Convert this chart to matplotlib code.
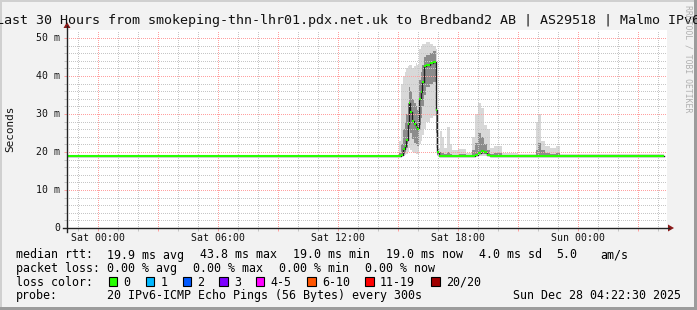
import numpy as np
import matplotlib
matplotlib.use('Agg')
import matplotlib.pyplot as plt
from matplotlib.patches import Rectangle, Polygon
from matplotlib.lines import Line2D
from matplotlib.transforms import blended_transform_factory

W, H = 697, 310
MONO = 'DejaVu Sans Mono'

# time in hours relative to Sat 00:00, each value holds until the next time
hours = [-1.6, 15.05, 15.15, 15.25, 15.35, 15.42, 15.50, 15.55, 15.62, 15.70,
         15.78, 15.88, 15.97, 16.03, 16.13, 16.22, 16.30, 16.42, 16.58, 16.75,
         16.90, 16.97, 17.03, 17.10, 17.20, 17.30, 17.45, 17.58, 17.70, 18.00,
         18.40, 18.70, 18.85, 19.00, 19.15, 19.30, 19.45, 19.60, 19.80, 20.20,
         21.00, 21.90, 22.00, 22.15, 22.35, 22.60, 22.90, 23.10]
t_end = 28.3

median = [19.0, 19.0, 19.3, 20.9, 21.5, 23.2, 27.4, 33.0, 30.6, 28.1,
          27.4, 26.7, 26.0, 33.9, 35.9, 38.5, 42.6, 43.0, 43.5, 43.8,
          31.0, 20.0, 19.0, 19.0, 19.0, 19.0, 19.0, 19.0, 19.0, 19.0,
          19.0, 19.0, 19.2, 19.8, 20.2, 20.0, 19.2, 19.0, 19.0, 19.0,
          19.0, 19.0, 19.0, 19.0, 19.0, 19.0, 19.0, 19.0]
smoke_lo = [19.0, 19.0, 19.0, 19.0, 19.2, 19.5, 20.0, 21.0, 20.5, 20.0,
            19.8, 19.5, 19.5, 22.0, 23.0, 24.5, 26.0, 28.0, 29.0, 29.5,
            21.0, 19.0, 19.0, 19.0, 19.0, 19.0, 19.0, 19.0, 19.0, 19.0,
            19.0, 19.0, 19.0, 19.0, 19.0, 19.0, 19.0, 19.0, 19.0, 19.0,
            19.0, 19.0, 19.0, 19.0, 19.0, 19.0, 19.0, 19.0]
smoke_q1 = [19.0, 19.0, 19.2, 19.6, 20.0, 21.0, 23.0, 26.0, 25.0, 23.5,
            22.5, 22.0, 21.5, 27.0, 29.0, 32.0, 35.0, 37.0, 38.0, 38.5,
            25.0, 19.3, 19.0, 19.0, 19.0, 19.0, 19.0, 19.0, 19.0, 19.0,
            19.0, 19.0, 19.2, 19.4, 19.6, 19.5, 19.1, 19.0, 19.0, 19.0,
            19.0, 19.0, 19.2, 19.0, 19.0, 19.0, 19.0, 19.0]
smoke_q3 = [19.1, 19.8, 22.0, 26.0, 28.0, 30.0, 33.0, 37.0, 36.0, 34.0,
            33.0, 32.0, 31.0, 39.0, 41.0, 43.0, 45.0, 45.5, 46.0, 46.5,
            40.0, 21.0, 19.6, 20.0, 19.8, 19.5, 20.0, 19.5, 19.3, 19.5,
            19.2, 20.5, 22.5, 25.0, 24.0, 22.0, 20.5, 19.5, 19.8, 19.2,
            19.1, 20.5, 22.5, 20.5, 19.8, 19.5, 19.8, 19.1]
smoke_hi = [19.3, 23.0, 38.0, 40.0, 41.0, 42.0, 42.5, 43.0, 43.0, 42.0,
            42.5, 43.5, 43.0, 47.0, 48.0, 48.5, 48.5, 49.0, 48.5, 48.0,
            47.0, 25.0, 21.0, 25.5, 24.0, 21.0, 26.7, 22.0, 20.5, 20.8,
            19.8, 24.0, 30.0, 33.0, 31.5, 27.0, 26.0, 21.0, 21.5, 19.8,
            19.5, 28.0, 30.0, 23.0, 21.5, 21.0, 21.5, 19.5]

y_ticks = [0, 10, 20, 30, 40, 50]
y_tick_labels = ['0', '10 m', '20 m', '30 m', '40 m', '50 m']
x_label_hours = [0, 6, 12, 18, 24]
x_labels = ['Sat 00:00', 'Sat 06:00', 'Sat 12:00', 'Sat 18:00', 'Sun 00:00']

title = 'Last 30 Hours from smokeping-thn-lhr01.pdx.net.uk to Bredband2 AB | AS29518 | Malmo IPv6'

rtt_row = [(16, 'median rtt:'), (107, '19.9 ms avg'), (200, '43.8 ms max'),
           (293, '19.0 ms min'), (386, '19.0 ms now'), (479, '4.0 ms sd'),
           (556, '5.0'), (600, 'am/s')]
loss_row = [(16, 'packet loss:'), (107, '0.00 % avg'), (193, '0.00 % max'),
            (279, '0.00 % min'), (365, '0.00 % now')]
loss_names = ['0', '1', '2', '3', '4-5', '6-10', '11-19', '20/20']
loss_colors = ['#26ff00', '#00b8ff', '#0059ff', '#7e00ff', '#ff00ff',
               '#ff5500', '#ff0000', '#a00000']
loss_box_x = [108.5, 145.5, 182.5, 219, 255.5, 307, 365, 431]
probe_text = '20 IPv6-ICMP Echo Pings (56 Bytes) every 300s'
date_text = 'Sun Dec 28 04:22:30 2025'


def fx(x):
    return x / W


def fy(y):
    return 1 - y / H


fig = plt.figure(figsize=(W / 100, H / 100), dpi=100, facecolor='#f2f2f2')

# frame shading
fig.add_artist(Rectangle((0, fy(2)), 1, 2 / H, transform=fig.transFigure, color='#d0d0d0', lw=0))
fig.add_artist(Rectangle((0, 0), 2 / W, 1, transform=fig.transFigure, color='#d0d0d0', lw=0))
fig.add_artist(Rectangle((0, 0), 1, 3 / H, transform=fig.transFigure, color='#9c9c9c', lw=0))
fig.add_artist(Rectangle((fx(694), 0), 3 / W, 1, transform=fig.transFigure, color='#9c9c9c', lw=0))

ax = fig.add_axes([fx(67), fy(228), 600 / W, (228 - 30.4) / H])
ax.set_facecolor('white')
ax.set_xlim(-1.55, 28.45)
ax.set_ylim(0, 52)
for s in ax.spines.values():
    s.set_visible(False)

xs = np.array(hours + [t_end])
def ext(v):
    return np.array(v + [v[-1]])

ax.fill_between(xs, ext(smoke_lo), ext(smoke_hi), step='post', color='#d8d8d8', lw=0, zorder=1)
ax.fill_between(xs, ext(smoke_q1), ext(smoke_q3), step='post', color='#8c8c8c', lw=0, zorder=1.2)
ax.step(xs, ext(median), where='post', color='#202020', lw=1.0, zorder=1.5)

# grid
red = '#ffa0a0'
gray = '#c6c6c6'
for yv in range(2, 52, 2):
    ax.axhline(yv, color=red if yv % 10 == 0 else gray, lw=1.0,
               linestyle=(0, (0.72, 1.44)), antialiased=False, zorder=2)
for xv in range(-1, 29):
    ax.axvline(xv, color=red if xv % 3 == 0 else gray, lw=1.0,
               linestyle=(0, (0.72, 1.44)), antialiased=False, zorder=2)

ax.hlines(median, hours, hours[1:] + [t_end], color='#26ff00', lw=1.5, zorder=3)

# ticks
ax.set_xticks(range(0, 29, 3))
ax.set_xticks(range(-1, 29), minor=True)
ax.set_yticks(y_ticks)
ax.set_yticks(range(0, 52, 2), minor=True)
ax.tick_params(which='major', length=2.5, width=0.72, color=red, direction='out',
               labelbottom=False, labelleft=False)
ax.tick_params(which='minor', length=2.5, width=0.72, color=gray, direction='out')

bt = blended_transform_factory(ax.transData, fig.transFigure)
for h, lab in zip(x_label_hours, x_labels):
    ax.text(h, fy(240.7), lab, transform=bt, ha='center', va='baseline',
            fontsize=7.1, family=MONO, color='#111111')
lt = blended_transform_factory(fig.transFigure, ax.transData)
for v, lab in zip(y_ticks, y_tick_labels):
    ax.text(fx(60), v, lab, transform=lt, ha='right', va='center',
            fontsize=7.1, family=MONO, color='#111111')

# axis lines and arrows
fig.add_artist(Line2D([fx(63), fx(669)], [fy(228), fy(228)], transform=fig.transFigure,
                      color='#222222', lw=1.0))
fig.add_artist(Line2D([fx(67), fx(67)], [fy(232), fy(26)], transform=fig.transFigure,
                      color='#222222', lw=1.0))
fig.add_artist(Polygon([(fx(668), fy(224.5)), (fx(668), fy(231.5)), (fx(674), fy(228))],
                       closed=True, transform=fig.transFigure, color='#8b1a1a', lw=0))
fig.add_artist(Polygon([(fx(63.5), fy(28)), (fx(70.5), fy(28)), (fx(67), fy(22))],
                       closed=True, transform=fig.transFigure, color='#8b1a1a', lw=0))

# title and labels
fig.text(fx(348.5), fy(24), title, ha='center', va='baseline', fontsize=9.6,
         family=MONO, color='#111111')
fig.text(fx(10), fy(129), 'Seconds', rotation=90, ha='center', va='center',
         fontsize=7.9, family=MONO, color='#111111')
fig.text(fx(688), fy(59), 'RRDTOOL / TOBI OETIKER', rotation=-90, ha='center',
         va='center', fontsize=5.9, family=MONO, color='#b0b0b0')

# legend
LF = 8.4
for x, s in rtt_row:
    fig.text(fx(x), fy(258.5), s, ha='left', va='baseline', fontsize=LF, family=MONO)
for x, s in loss_row:
    fig.text(fx(x), fy(272), s, ha='left', va='baseline', fontsize=LF, family=MONO)
fig.text(fx(16), fy(285.7), 'loss color:', ha='left', va='baseline', fontsize=LF, family=MONO)
for bx, name, c in zip(loss_box_x, loss_names, loss_colors):
    fig.add_artist(Rectangle((fx(bx), fy(285.5)), 8.5 / W, 8.5 / H, transform=fig.transFigure,
                             facecolor=c, edgecolor='black', lw=0.8))
    fig.text(fx(bx + 14.8), fy(285.7), name, ha='left', va='baseline', fontsize=LF, family=MONO)
fig.text(fx(16), fy(299.3), 'probe:', ha='left', va='baseline', fontsize=LF, family=MONO)
fig.text(fx(107), fy(299.3), probe_text, ha='left', va='baseline', fontsize=LF, family=MONO)
fig.text(fx(681), fy(299.3), date_text, ha='right', va='baseline', fontsize=LF, family=MONO)

fig.savefig('out.png', dpi=100, facecolor=fig.get_facecolor())
